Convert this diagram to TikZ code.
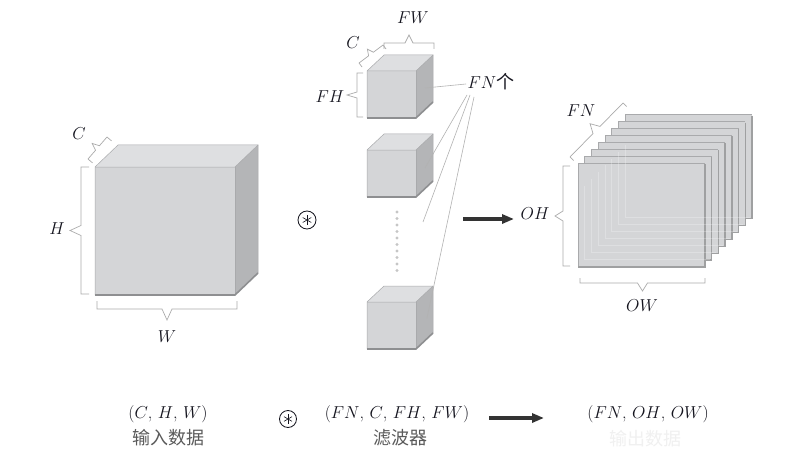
\documentclass[tikz,border=0pt]{standalone}
\usepackage{fontspec}
\newfontfamily\cjk{Noto Sans CJK SC}
\usetikzlibrary{calc,arrows.meta}
\definecolor{cfront}{HTML}{D4D5D7}
\definecolor{ctop}{HTML}{DEDFE1}
\definecolor{cside}{HTML}{B4B5B7}
\definecolor{cedge}{HTML}{A9AAAC}
\definecolor{cshadow}{HTML}{8E8F91}
\definecolor{cbrace}{HTML}{ABABAB}
\definecolor{ctext}{HTML}{14141E}
\definecolor{carrow}{HTML}{333333}
\definecolor{ccn}{HTML}{5A5A5A}
\tikzset{
  bracestyle/.style={draw=cbrace, line width=0.7pt, line join=miter},
  lab/.style={font=\fontsize{18}{20}\selectfont, text=ctext, inner sep=0pt},
  cnlab/.style={font=\cjk\fontsize{18}{20}\selectfont, text=ccn, inner sep=0pt},
  pointer/.style={draw=gray!60, line width=0.6pt},
  bigarrow/.style={draw=carrow, line width=3.2pt, -{Triangle[length=12pt,width=9pt]}},
}
\newcommand\mybox[6]{% x y w h dx dy
  \fill[ctop] (#1,#2) -- ++(#5,-#6) -- ++(#3,0) -- ++(-#5,#6) -- cycle;
  \fill[cside] (#1+#3,#2) -- ++(#5,-#6) -- ++(0,#4) -- ++(-#5,#6) -- cycle;
  \fill[cfront] (#1,#2) rectangle ++(#3,#4);
  \draw[cedge, line width=0.5pt] (#1,#2+#4) -- (#1,#2) -- ++(#5,-#6) -- ++(#3,0) -- ++(0,#4);
  \draw[cedge, line width=0.5pt] (#1,#2) -- ++(#3,0) -- ++(#5,-#6);
  \draw[cedge, line width=0.5pt] (#1+#3,#2) -- ++(0,#4);
  \draw[cshadow, line width=1.6pt] (#1,#2+#4) -- ++(#3,0) -- ++(#5,-#6);
}
\newcommand\brak[5]{% A B tip tick halfnotch
  \draw[bracestyle] ($(#1)!#4!90:(#2)$) -- (#1) -- ($(#1)!0.5!(#2)!#5!(#1)$) -- ($(#1)!0.5!(#2)!#3!90:(#2)$) -- ($(#1)!0.5!(#2)!#5!(#2)$) -- (#2) -- ($(#2)!#4!-90:(#1)$);}
\newcommand\convsym[3]{% x y r
  \draw[ctext, line width=0.8pt] (#1,#2) circle (#3);
  \foreach \a in {90,30,150} {\draw[ctext, line width=0.6pt] ($(#1,#2)+(\a:#3*0.55)$) -- ($(#1,#2)+(\a+180:#3*0.55)$);}
}
\begin{document}
\begin{tikzpicture}[x=1pt,y=-1pt]
\useasboundingbox (0,0) rectangle (807,460);
\fill[white] (0,0) rectangle (807,460);

% ---- input data cube
\mybox{95}{167}{140}{128}{23}{22}
\brak{81,167}{81,294}{-11pt}{8pt}{5pt}
\brak{97,309}{237,309}{-11pt}{8pt}{5pt}
\brak{88,159}{107,137}{7pt}{-6pt}{3pt}
\node[lab] (lC) at (79,134) {$C$};
\node[lab] (lH) at (57,229) {$H$};
\node[lab] (lW) at (167,337) {$W$};

% ---- convolution symbol
\convsym{307}{220}{9}
\coordinate (conv1) at (307,220);

% ---- filters
\mybox{367}{71}{49}{47}{17}{16}
\mybox{367}{150}{49}{47}{17}{16}
\mybox{367}{302}{49}{47}{17}{16}
\foreach \k in {0,...,9} {\fill[gray!45] (397,212+6.5*\k) circle (1.7);}
\brak{357,73}{357,117}{-10pt}{6pt}{3pt}
\brak{384,43}{434,43}{8pt}{-6pt}{4pt}
\brak{359,63}{383,45}{6pt}{-5pt}{3pt}
\node[lab] (lFW) at (413,18) {$FW$};
\node[lab] (lC2) at (353,43) {$C$};
\node[lab] (lFH) at (330,97) {$FH$};
\node[lab] (lFN) at (491,82) {$FN${\cjk 个}};
\coordinate (h0) at (466,84);
\coordinate (h1) at (467,95);
\coordinate (h2) at (470,95);
\coordinate (h3) at (474,97);
\coordinate (f1) at (425,88);
\coordinate (f2) at (425,168);
\coordinate (f3) at (423,222);
\coordinate (f4) at (427,318);
\draw[pointer] (h0) -- (f1);
\draw[pointer] (h1) -- (f2);
\draw[pointer] (h2) -- (f3);
\draw[pointer] (h3) -- (f4);

% ---- arrow
\coordinate (a1) at (463,219);
\coordinate (a2) at (514,219);
\draw[bigarrow] (a1) -- (a2);

% ---- output stack
\foreach \i in {7,6,...,0} {
  \pgfmathsetmacro\ox{578+6.7*\i}
  \pgfmathsetmacro\oy{163-6.9*\i}
  \fill[cfront] (\ox,\oy) rectangle ++(127,104);
  \draw[cedge, line width=0.5pt] (\ox,\oy+104) -- (\ox,\oy) -- (\ox+127,\oy);
  \draw[cshadow!85, line width=1.4pt] (\ox+127,\oy+1) -- (\ox+127,\oy+104) -- (\ox,\oy+104);
}
\foreach \i in {1,...,7} {
  \pgfmathsetmacro\ox{578+6.7*\i}
  \pgfmathsetmacro\oy{163-6.9*\i}
  \draw[white, opacity=0.25, line width=0.6pt] (\ox,\oy+30) -- (\ox,\oy+103) -- (\ox+125,\oy+103);
}
\brak{563,166}{563,266}{-8pt}{7pt}{5pt}
\brak{580,283}{705,283}{-8pt}{5pt}{5pt}
\brak{570,157}{623,103}{9pt}{-5pt}{5pt}
\node[lab] (lOH) at (535,214) {$OH$};
\node[lab] (lFN2) at (581,111) {$FN$};
\node[lab] (lOW) at (642,306) {$OW$};

% ---- bottom legend
\node[lab] (t1) at (168,414) {$(C$, $H$, $W)$};
\node[cnlab] (c1) at (168,438) {输入数据};
\convsym{288}{419}{8.5}
\node[lab] (t2) at (397,414) {$(FN$, $C$, $FH$, $FW)$};
\node[cnlab] (c2) at (400,438) {滤波器};
\coordinate (b1) at (489,418);
\coordinate (b2) at (544,418);
\draw[bigarrow] (b1) -- (b2);
\node[lab] (t3) at (648,414) {$(FN$, $OH$, $OW)$};
\node[cnlab, text=black!6] (c3) at (645,439) {输出数据};
\end{tikzpicture}
\end{document}
